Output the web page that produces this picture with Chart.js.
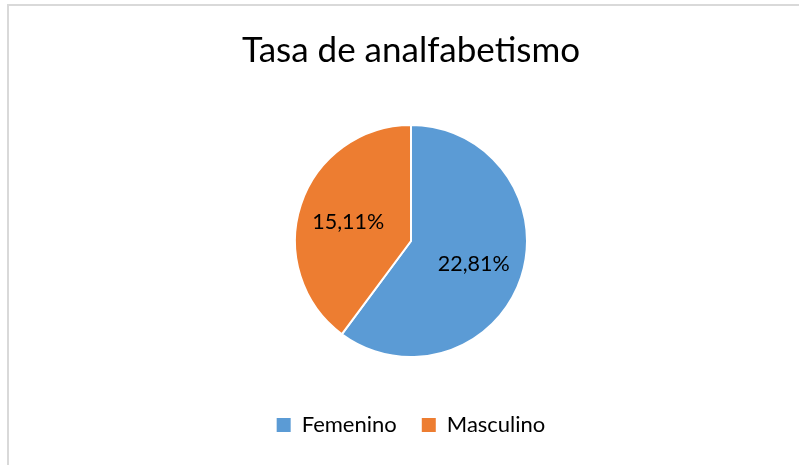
<!DOCTYPE html>
<html>
<head>
<meta charset="utf-8">
<script src="https://cdn.jsdelivr.net/npm/chart.js@4.4.1/dist/chart.umd.min.js"></script>
<style>
  html, body { margin: 0; padding: 0; background: #fff; }
  #wrap { position: relative; width: 799px; height: 465px; overflow: hidden; }
  #frame { position: absolute; left: 7px; top: 4px; width: 900px; height: 600px;
           border-left: 2px solid #d9d9d9; border-top: 2px solid #d9d9d9; pointer-events: none; }
  canvas { position: absolute; left: 0; top: 0; }
</style>
</head>
<body>
<div id="wrap">
  <canvas id="c" width="799" height="465"></canvas>
  <div id="frame"></div>
</div>
<script>
const titleText = 'Tasa de analfabetismo';
const categories = ['Femenino', 'Masculino'];
const values = [22.81, 15.11];
const colors = ['#5B9BD5', '#ED7D31'];

function fmt(v) { return v.toFixed(2).replace('.', ',') + '%'; }

const labelPlugin = {
  id: 'sliceLabels',
  afterDatasetsDraw(chart) {
    const ctx = chart.ctx;
    const meta = chart.getDatasetMeta(0);
    ctx.save();
    ctx.font = '21.5px Lato';
    ctx.fillStyle = '#000';
    ctx.textAlign = 'center';
    ctx.textBaseline = 'middle';
    meta.data.forEach((arc, i) => {
      const p = arc.getProps(['x', 'y', 'startAngle', 'endAngle', 'outerRadius'], true);
      const mid = (p.startAngle + p.endAngle) / 2;
      const r = p.outerRadius * 0.57;
      ctx.fillText(fmt(values[i]), p.x + Math.cos(mid) * r, p.y + Math.sin(mid) * r + 2);
    });
    ctx.restore();
  }
};

new Chart(document.getElementById('c'), {
  type: 'pie',
  data: {
    labels: categories,
    datasets: [{
      data: values,
      backgroundColor: colors,
      borderColor: '#ffffff',
      borderWidth: 2,
      radius: 116
    }]
  },
  options: {
    responsive: false,
    animation: false,
    layout: { padding: { top: 0, bottom: 19, left: 23, right: 0 } },
    plugins: {
      title: {
        display: true,
        text: titleText,
        color: '#000',
        font: { family: 'Lato', size: 35, weight: 'normal' },
        padding: { top: 30, bottom: 21 }
      },
      legend: {
        display: true,
        position: 'bottom',
        labels: {
          color: '#000',
          font: { family: 'Lato', size: 22 },
          boxWidth: 14,
          boxHeight: 14,
          padding: 25,
          generateLabels(chart) {
            return categories.map((c, i) => ({
              text: c,
              fillStyle: colors[i],
              strokeStyle: colors[i],
              lineWidth: 0,
              fontColor: '#000',
              hidden: false,
              index: i
            }));
          }
        }
      },
      tooltip: { enabled: false }
    }
  },
  plugins: [labelPlugin]
});
</script>
</body>
</html>
